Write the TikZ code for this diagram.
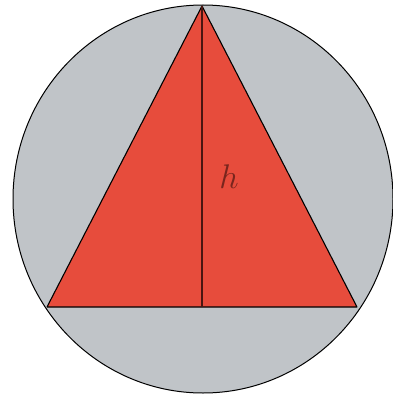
\documentclass[tikz,border=0pt]{standalone}
\usepackage{amsmath}
\usetikzlibrary{calc}
\definecolor{discgray}{HTML}{C0C4C8}
\definecolor{trired}{HTML}{E74C3C}
\definecolor{heightbrown}{HTML}{4A1510}
\tikzset{
  disc/.style={draw=black, line width=1pt, fill=discgray},
  tri/.style={draw=black, line width=1.1pt, fill=trired, line join=round},
  heightline/.style={draw=heightbrown, line width=1.8pt},
  hlabel/.style={font=\huge, scale=1.65, text=heightbrown!70!trired}
}
\begin{document}
\begin{tikzpicture}[x=1pt, y=-1pt]

  % frame of the reference picture
  \useasboundingbox (0,0) rectangle (393,396);

  % circumscribed disc
  \coordinate (centre) at (203,199);
  \draw[disc] (centre) ellipse [x radius=190, y radius=194];

  % inscribed triangle
  \coordinate (apex) at (202,6);
  \coordinate (bl)   at (47,307);
  \coordinate (br)   at (357,307);
  \coordinate (foot) at (apex |- bl);
  \draw[tri] (apex) -- (bl) -- (br) -- cycle;

  % height
  \draw[heightline] (apex) -- (foot);
  \node[hlabel] (h) at (229,177) {$h$};

\end{tikzpicture}
\end{document}
